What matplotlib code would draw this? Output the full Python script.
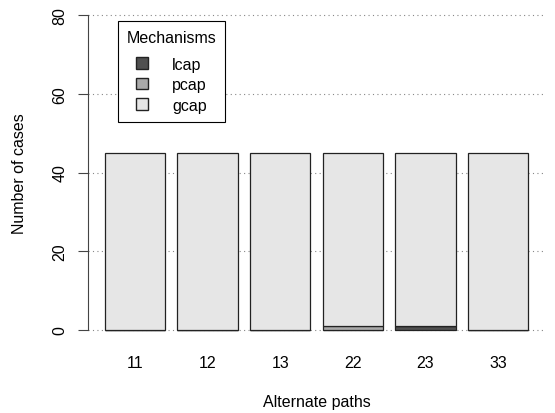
import numpy as np
import matplotlib.pyplot as plt
from matplotlib.patches import Patch

plt.rcParams['font.family'] = ['Liberation Sans', 'DejaVu Sans']

paths = ["11", "12", "13", "22", "23", "33"]
lcap = [0, 0, 0, 0, 1, 0]
pcap = [0, 0, 0, 1, 0, 0]
gcap = [45, 45, 45, 44, 44, 45]

colors = {"lcap": "#505050", "pcap": "#a9a9a9", "gcap": "#e6e6e6"}
fs = 11.5

fig = plt.figure(figsize=(5.55, 4.14), dpi=100)
ax = fig.add_axes([88 / 555, (414 - 343.6) / 414, 457 / 555, (343.6 - 3.4) / 414])

x = 0.7 + 1.2 * np.arange(len(paths))
bottom = np.zeros(len(paths))
for name, vals in [("lcap", lcap), ("pcap", pcap), ("gcap", gcap)]:
    ax.bar(x, vals, width=1.0, bottom=bottom, color=colors[name],
           edgecolor="#222222", linewidth=0.9, zorder=3)
    bottom += np.array(vals)

ax.set_xlim(-0.08, 7.48)
ax.set_ylim(-3.2, 83.2)

for y in [0, 20, 40, 60, 80]:
    ax.axhline(y, color="#888888", linestyle=(0, (1, 3)), linewidth=0.8, zorder=1)

for s in ["top", "right", "bottom"]:
    ax.spines[s].set_visible(False)
ax.spines["left"].set_bounds(0, 80)
ax.spines["left"].set_color("#444444")
ax.set_yticks([0, 20, 40, 60, 80])
ax.set_yticklabels(["0", "20", "40", "60", "80"], rotation=90, va="center")
ax.tick_params(axis="y", length=7, labelsize=fs, color="#444444", pad=8)
ax.set_xticks(x)
ax.set_xticklabels(paths)
ax.tick_params(axis="x", length=0, labelsize=fs, pad=9)

ax.set_xlabel("Alternate paths", fontsize=fs)
ax.xaxis.set_label_coords(0.5, -0.15)
ax.set_ylabel("Number of cases", fontsize=fs)
ax.yaxis.set_label_coords(-0.133, 0.5)

handles = [Patch(facecolor=colors[n], edgecolor="#222222", label=n)
           for n in ["lcap", "pcap", "gcap"]]
leg = ax.legend(handles=handles, title="Mechanisms", loc="upper left",
                bbox_to_anchor=(30 / 457, (343.6 - 22) / 340.2), fontsize=fs,
                title_fontsize=fs, fancybox=False, edgecolor="black",
                framealpha=1, alignment="center",
                handlelength=0.75, handleheight=0.75, handletextpad=1.5,
                borderpad=0.55, labelspacing=0.35, borderaxespad=0)
leg.get_frame().set_linewidth(0.8)
# extra gap between the title and the first entry
leg._legend_box.sep = 8.5

fig.savefig("out.png", dpi=100)
